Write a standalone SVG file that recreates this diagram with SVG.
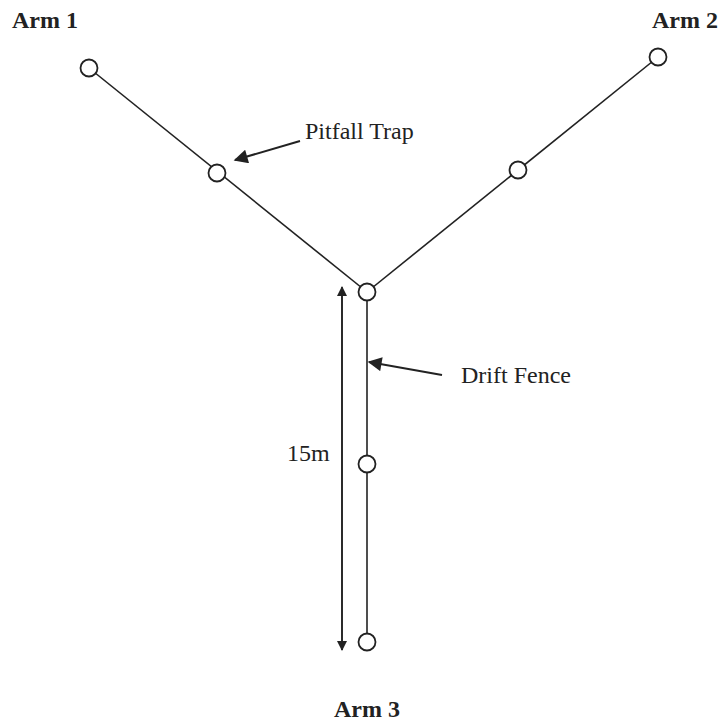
<svg xmlns="http://www.w3.org/2000/svg" width="722" height="724" viewBox="0 0 722 724">
<style>
.fence{stroke:#222;stroke-width:1.6;fill:none}
.trap{stroke:#222;stroke-width:1.8;fill:#fff}
.lbl{font-family:"Liberation Serif",serif;font-size:24px;fill:#222}
.arm{font-family:"Liberation Serif",serif;font-size:24px;font-weight:bold;fill:#222}
.ptr{stroke:#222;stroke-width:2;fill:none}
</style>
<defs>
<marker id="ah" viewBox="0 0 10 10" refX="9" refY="5" markerWidth="10" markerHeight="10" markerUnits="userSpaceOnUse" orient="auto">
<path d="M0,0 L10,5 L0,10 z" fill="#222"/>
</marker>
<marker id="big" viewBox="0 0 10 10" refX="9" refY="5" markerWidth="16" markerHeight="14" markerUnits="userSpaceOnUse" orient="auto">
<path d="M0,0 L10,5 L0,10 z" fill="#222"/>
</marker>
</defs>
<g id="connectors">
<line class="fence" x1="89" y1="68" x2="367" y2="292"/>
<line class="fence" x1="658" y1="57" x2="367" y2="292"/>
<line class="fence" x1="367" y1="292" x2="367" y2="642"/>
<line class="fence" x1="342" y1="650" x2="342" y2="287" marker-end="url(#ah)"/>
<line class="fence" x1="342" y1="290" x2="342" y2="650" marker-end="url(#ah)"/>
<line class="ptr" x1="300" y1="141" x2="235" y2="160" marker-end="url(#big)"/>
<line class="ptr" x1="442" y1="375" x2="369" y2="362" marker-end="url(#big)"/>
</g>
<g id="trap1"><circle class="trap" cx="89" cy="68" r="8.5"/></g>
<g id="trap2"><circle class="trap" cx="217" cy="173" r="8.5"/></g>
<g id="trap3"><circle class="trap" cx="367" cy="292" r="8.5"/></g>
<g id="trap4"><circle class="trap" cx="518" cy="170" r="8.5"/></g>
<g id="trap5"><circle class="trap" cx="658" cy="57" r="8.5"/></g>
<g id="trap6"><circle class="trap" cx="367" cy="464" r="8.5"/></g>
<g id="trap7"><circle class="trap" cx="367" cy="642" r="8.5"/></g>
<g id="labels">
<text class="arm" x="12" y="28">Arm 1</text>
<text class="arm" x="652" y="28">Arm 2</text>
<text class="arm" x="367" y="717" text-anchor="middle">Arm 3</text>
<text class="lbl" x="305" y="139">Pitfall Trap</text>
<text class="lbl" x="461" y="383">Drift Fence</text>
<text class="lbl" x="287" y="461">15m</text>
</g>
</svg>
